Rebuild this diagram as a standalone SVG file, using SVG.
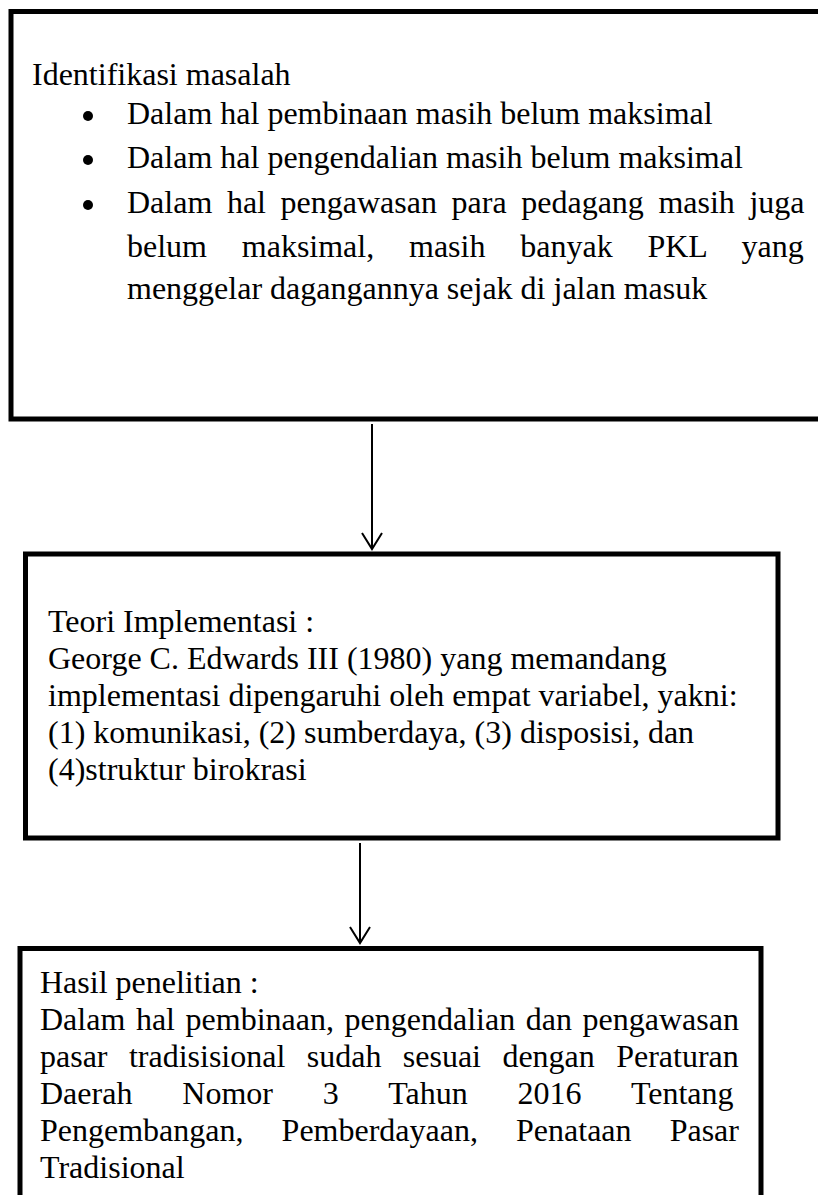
<svg xmlns="http://www.w3.org/2000/svg" width="818" height="1195" viewBox="0 0 818 1195">
<defs>
<style>
.box{fill:#fff;stroke:#000;stroke-width:5}
.t{font-family:"Liberation Serif","Times New Roman",serif;font-size:32px;fill:#000}
.con{stroke:#000;stroke-width:2;fill:none}
</style>
<marker id="arr" markerWidth="24" markerHeight="24" refX="20" refY="12" orient="auto" markerUnits="userSpaceOnUse" viewBox="0 0 24 24">
<path d="M4 2 L20 12 L4 22" fill="none" stroke="#000" stroke-width="2"/>
</marker>
</defs>
<rect width="818" height="1195" fill="#fff"/>
<g id="node-identifikasi">
<rect class="box" x="11" y="11.5" width="830" height="407.5"/>
<text class="t" x="32" y="85">Identifikasi masalah</text>
<circle cx="88" cy="116" r="5"/>
<circle cx="88" cy="160" r="5"/>
<circle cx="88" cy="205" r="5"/>
<text class="t" x="127" y="124">Dalam hal pembinaan masih belum maksimal</text>
<text class="t" x="127" y="168">Dalam hal pengendalian masih belum maksimal</text>
<text class="t" x="127" y="213" style="word-spacing:6.6px">Dalam hal pengawasan para pedagang masih juga</text>
<text class="t" x="127" y="257" style="word-spacing:26.8px">belum maksimal, masih banyak PKL yang</text>
<text class="t" x="127" y="299">menggelar dagangannya sejak di jalan masuk</text>
</g>
<g id="node-teori">
<rect class="box" x="25.5" y="554" width="752.5" height="284"/>
<text class="t" x="48" y="632">Teori Implementasi :</text>
<text class="t" x="48" y="669">George C. Edwards III (1980) yang memandang</text>
<text class="t" x="48" y="706">implementasi dipengaruhi oleh empat variabel, yakni:</text>
<text class="t" x="48" y="743">(1) komunikasi, (2) sumberdaya, (3) disposisi, dan</text>
<text class="t" x="48" y="780">(4)struktur birokrasi</text>
</g>
<g id="node-hasil">
<rect class="box" x="20" y="948.5" width="741" height="270"/>
<text class="t" x="40" y="993">Hasil penelitian :</text>
<text class="t" x="40" y="1030" style="word-spacing:2.6px">Dalam hal pembinaan, pengendalian dan pengawasan</text>
<text class="t" x="40" y="1067" style="word-spacing:13.4px">pasar tradisisional sudah sesuai dengan Peraturan</text>
<text class="t" x="40" y="1104" style="word-spacing:41.9px">Daerah Nomor 3 Tahun 2016 Tentang</text>
<text class="t" x="40" y="1141" style="word-spacing:30.1px">Pengembangan, Pemberdayaan, Penataan Pasar</text>
<text class="t" x="40" y="1178">Tradisional</text>
</g>
<g id="connectors">
<line class="con" x1="372" y1="424" x2="372" y2="549" marker-end="url(#arr)"/>
<line class="con" x1="360" y1="843" x2="360" y2="943" marker-end="url(#arr)"/>
</g>
</svg>
